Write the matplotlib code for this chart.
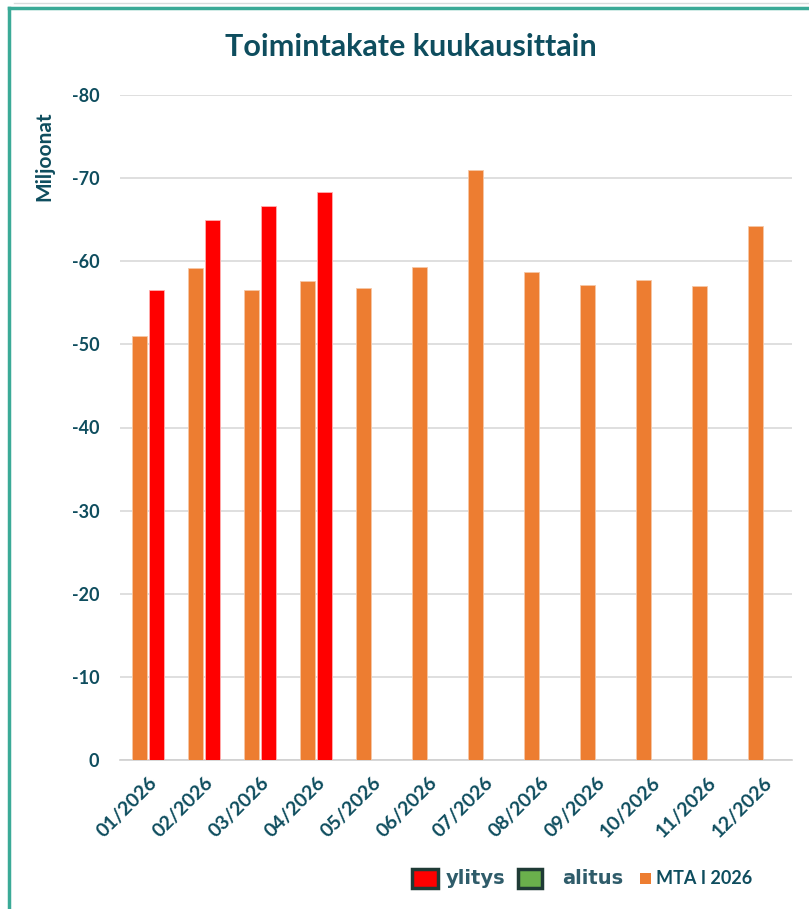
import numpy as np
import matplotlib.pyplot as plt
from matplotlib.patches import Rectangle
from matplotlib.lines import Line2D

# data (millions, costs shown as negative)
months = ['01/2026', '02/2026', '03/2026', '04/2026', '05/2026', '06/2026',
          '07/2026', '08/2026', '09/2026', '10/2026', '11/2026', '12/2026']
mta_2026 = [-51.0, -59.2, -56.6, -57.6, -56.8, -59.3,
            -71.0, -58.7, -57.1, -57.7, -57.0, -64.2]
ylitys = [-56.5, -65.0, -66.6, -68.3]

dark = '#0E4D5E'
orange = '#ED7D31'
red = '#FF0000'
green = '#6AB04C'
teal = '#3BAA97'

plt.rcParams['font.family'] = ['Lato', 'DejaVu Sans']

fig = plt.figure(figsize=(8.09, 9.09), dpi=100)
ax = fig.add_axes([120 / 809, 1 - 760 / 909, 672 / 809, 665 / 909])

x = np.arange(len(months))
w = 0.27
ax.bar(x - w / 2 - 0.01, mta_2026, width=w, color=orange,
       edgecolor='#F6C7A6', linewidth=0.6, zorder=3)
ax.bar(x[:len(ylitys)] + w / 2 + 0.01, ylitys, width=w, color=red,
       edgecolor='#FFB0B0', linewidth=0.6, zorder=3)

ax.set_ylim(0, -80)
ax.set_xlim(-0.5, len(months) - 0.5)
ax.set_yticks(np.arange(0, -81, -10))
ax.set_yticklabels([str(v) for v in np.arange(0, -81, -10)])
ax.yaxis.grid(True, color='#D9D9D9', linewidth=1.2, zorder=0)
ax.set_axisbelow(True)
for s in ['top', 'right', 'left']:
    ax.spines[s].set_visible(False)
ax.spines['bottom'].set_color('#D0D0D0')
ax.spines['bottom'].set_linewidth(1.2)
ax.tick_params(axis='both', length=0, colors=dark, labelsize=13)
ax.tick_params(axis='y', pad=15)
ax.tick_params(axis='x', pad=10)
ax.set_xticks(x)
ax.set_xticklabels(months, rotation=45, ha='right', rotation_mode='anchor',
                   fontweight='bold', color=dark, fontsize=14)
for lab in ax.get_yticklabels():
    lab.set_fontweight('bold')
ax.set_ylabel('Miljoonat', fontsize=15, fontweight='bold', color=dark)
ax.yaxis.set_label_coords(-0.098, 0.908)

fig.text(0.508, 1 - 47 / 909, 'Toimintakate kuukausittain', ha='center',
         va='center', fontsize=22, fontweight='bold', color=dark)

# frame
fig.add_artist(Line2D([9 / 809, 9 / 809], [0, 1 - 8 / 909], color=teal,
                      linewidth=2.5, transform=fig.transFigure))
fig.add_artist(Line2D([9 / 809, 1], [1 - 8 / 909, 1 - 8 / 909], color=teal,
                      linewidth=2.5, transform=fig.transFigure))
fig.add_artist(Line2D([14 / 809, 1], [1 - 3 / 909, 1 - 3 / 909], color='#D8DCDC',
                      linewidth=1, transform=fig.transFigure))

# legend
def fx(px):
    return px / 809

def fy(py):
    return 1 - py / 909

fig.patches.append(Rectangle((fx(412), fy(888)), fx(26), 19 / 909, facecolor=red,
                             edgecolor='#1F3B36', linewidth=2.5,
                             transform=fig.transFigure))
fig.text(fx(446), fy(878), 'ylitys', va='center', fontsize=14,
         fontweight='bold', color='#2F5C6A', family=['DejaVu Sans'])
fig.patches.append(Rectangle((fx(518), fy(888)), fx(24), 19 / 909, facecolor=green,
                             edgecolor='#1F3B36', linewidth=2.5,
                             transform=fig.transFigure))
fig.text(fx(562), fy(879), 'alitus', va='center', fontsize=14,
         fontweight='bold', color='#2F5C6A', family=['DejaVu Sans'])
fig.patches.append(Rectangle((fx(640), fy(884)), fx(11), 11 / 909, facecolor=orange,
                             edgecolor='none', transform=fig.transFigure))
fig.text(fx(656), fy(878), 'MTA I 2026', va='center', fontsize=13,
         fontweight='bold', color=dark)

fig.savefig('out.png', dpi=100)
